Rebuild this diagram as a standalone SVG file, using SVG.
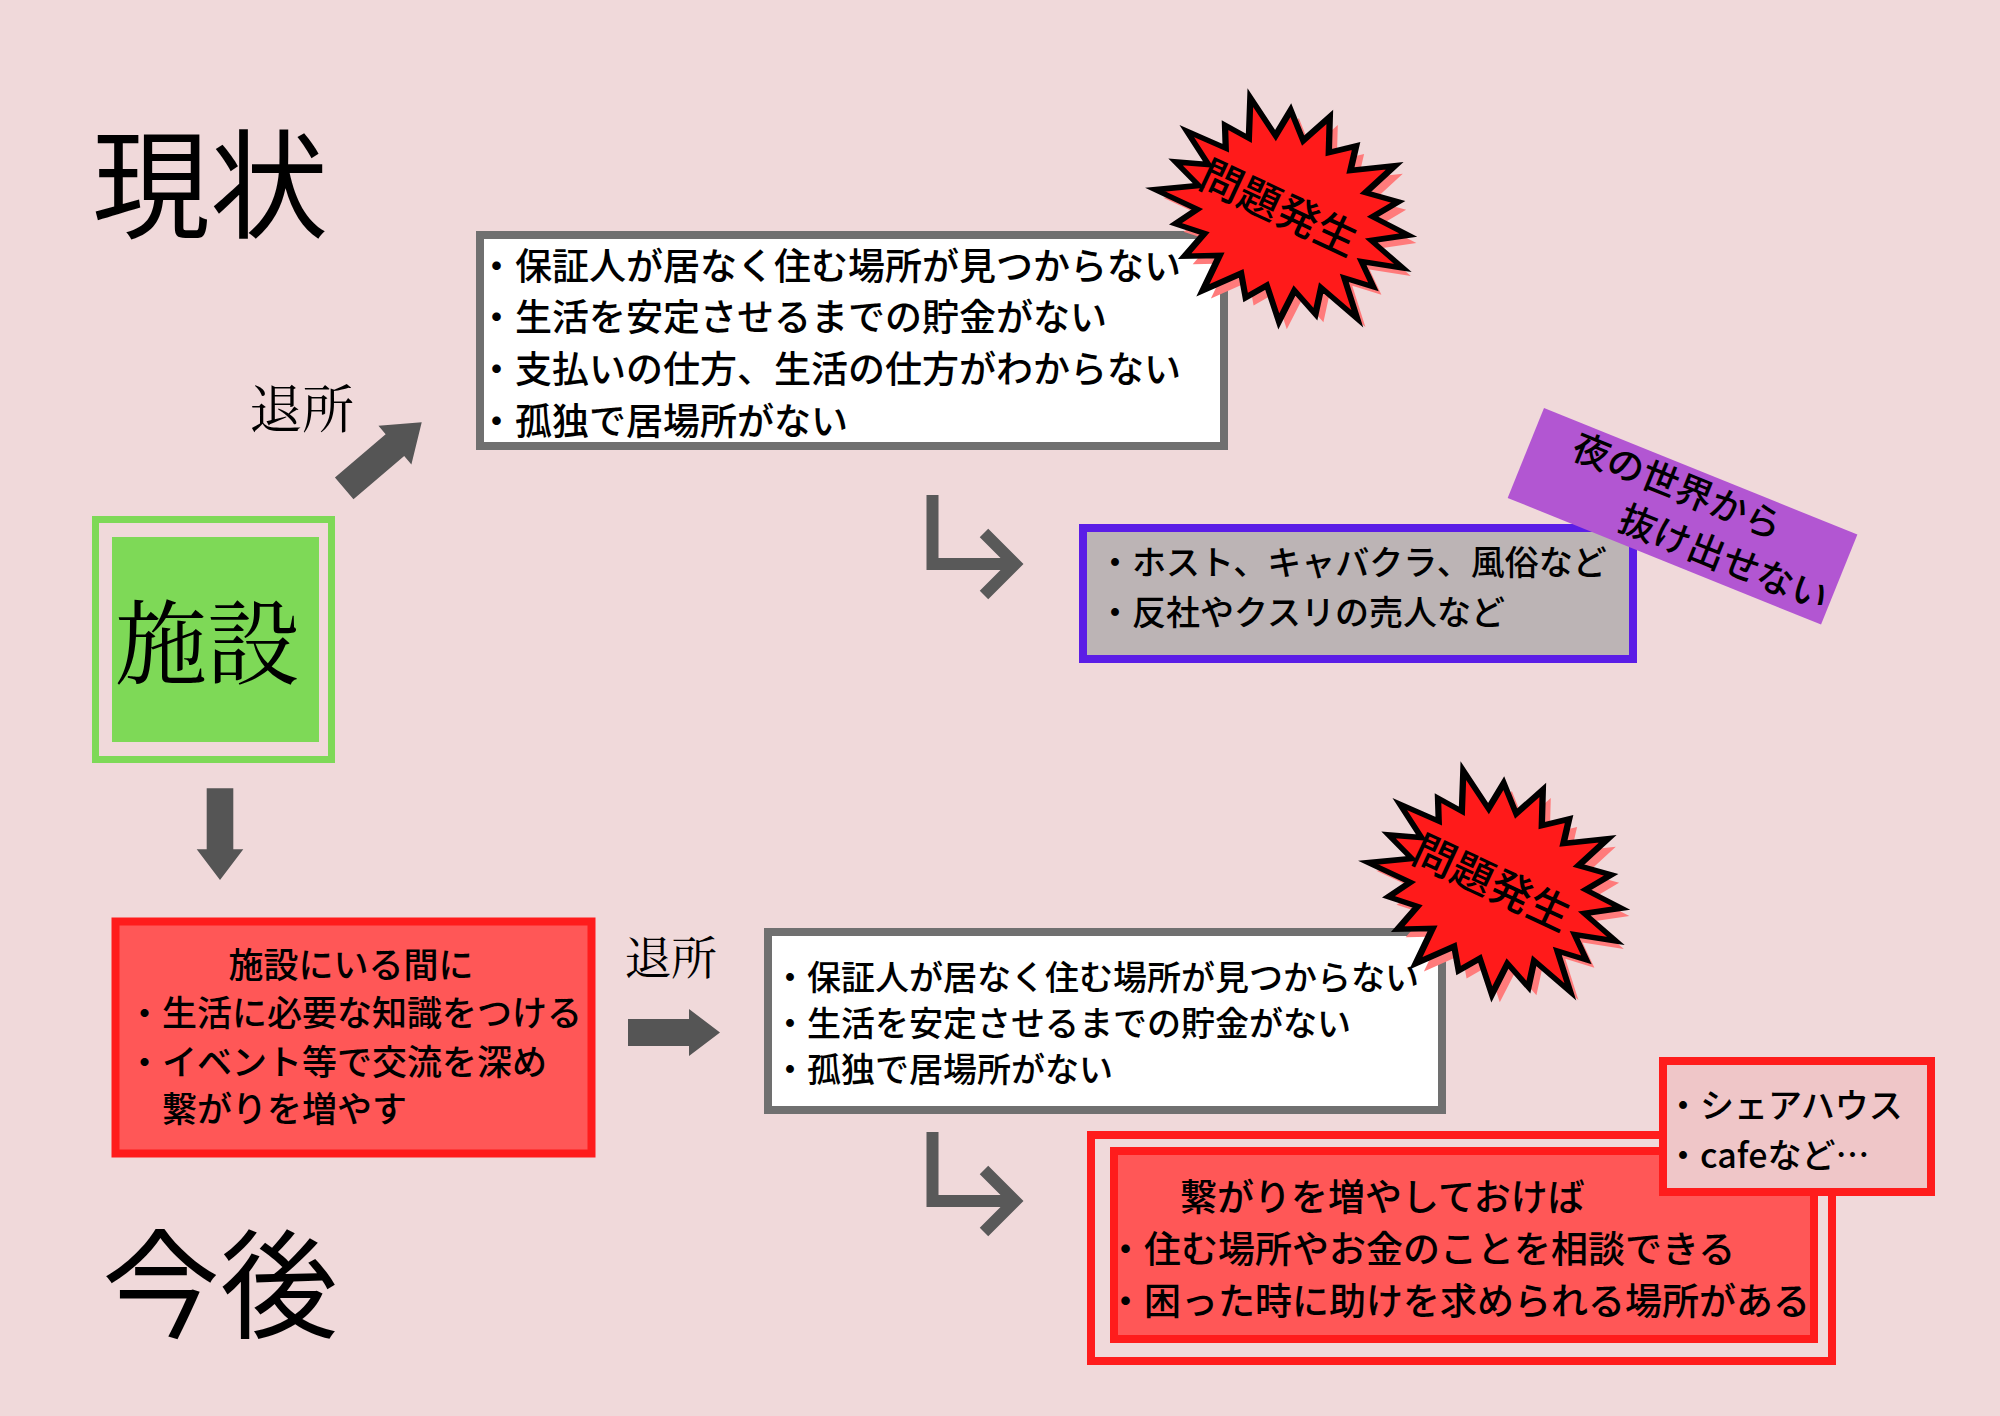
<svg xmlns="http://www.w3.org/2000/svg" width="2000" height="1416" viewBox="0 0 2000 1416">
<style>
.t{font-family:"Noto Sans CJK JP","Noto Sans CJK SC",sans-serif;font-weight:500;fill:#000}
.s{font-family:"Noto Serif CJK JP","Noto Sans CJK JP",serif;fill:#000}
.title{font-family:"Noto Sans CJK JP",sans-serif;font-weight:400;font-size:118px;fill:#000}
.arrow{fill:#555555}
.hook{fill:none;stroke:#595959;stroke-width:12;stroke-linecap:butt;stroke-linejoin:miter}
.graybox{fill:#ffffff;stroke:#707070;stroke-width:8}
.redbox{fill:#ff5757;stroke:#ff1c1c;stroke-width:8}
.burst{fill:#ff1a1a;stroke:#000;stroke-width:5;stroke-linejoin:miter}
.burstsh{fill:#ff7b7b}
</style>
<defs>
<polygon id="star" points="100,0 69.1,10.9 85.6,27.8 62.4,31.8 84.9,61.7 49.5,49.5 54.1,74.4 31.8,62.4 30.9,95.1 10.9,69.1 0,88 -10.9,69.1 -32.1,98.9 -31.8,62.4 -55.9,76.9 -49.5,49.5 -72.8,52.9 -62.4,31.8 -98,31.8 -69.1,10.9 -93,0 -69.1,-10.9 -95.1,-30.9 -62.4,-31.8 -70.4,-51.2 -49.5,-49.5 -61.7,-84.9 -31.8,-62.4 -29.4,-90.3 -10.9,-69.1 0,-100 10.9,-69.1 27.8,-85.6 31.8,-62.4 61.2,-84.1 49.5,-49.5 75.2,-54.7 62.4,-31.8 93.2,-30.3 69.1,-10.9"/>
</defs>
<rect x="0" y="0" width="2000" height="1416" fill="#f0d9da"/>

<g id="title-genjou"><text class="title" x="92" y="229">現状</text></g>
<g id="title-kongo"><text class="title" x="102" y="1329">今後</text></g>

<g id="connectors">
  <path class="arrow" d="M0,-14.3 H66.6 V-25.4 L101.8,0 L66.6,25.4 V14.3 H0 Z" transform="translate(344.2,488.3) rotate(-40.4)"/>
  <path class="arrow" d="M206.7,788.3 H233.3 V849.3 H243.3 L220,880 L196.7,849.3 H206.7 Z"/>
  <path class="arrow" d="M628,1019 H689 V1009 L720,1032.5 L689,1056 V1046 H628 Z"/>
  <path class="hook" d="M932.5,495 V564 H1012 M984,533 L1015,564 L984,595"/>
  <path class="hook" d="M932.5,1132 V1201 H1012 M984,1170 L1015,1201 L984,1232"/>
  <text class="s" x="250" y="428" font-size="52">退所</text>
  <text class="s" x="625" y="974" font-size="46">退所</text>
</g>

<g id="node-shisetsu">
  <rect x="95.5" y="519.5" width="236" height="240" fill="none" stroke="#7ed957" stroke-width="7"/>
  <rect x="112" y="537" width="207" height="205" fill="#7ed957"/>
  <text class="s" x="115" y="677" font-size="92">施設</text>
</g>

<g id="node-current-problems">
  <rect class="graybox" x="480" y="235" width="744" height="211"/>
  <text class="t" font-size="37">
    <tspan x="478" y="280">・保証人が居なく住む場所が見つからない</tspan>
    <tspan x="478" y="331">・生活を安定させるまでの貯金がない</tspan>
    <tspan x="478" y="383">・支払いの仕方、生活の仕方がわからない</tspan>
    <tspan x="478" y="435">・孤独で居場所がない</tspan>
  </text>
</g>

<g id="node-burst-top">
  <use href="#star" class="burstsh" transform="translate(1293,221) rotate(25) scale(1.3,1.06)"/>
  <use href="#star" class="burst" transform="translate(1285,213) rotate(25) scale(1.3,1.06)" vector-effect="non-scaling-stroke"/>
  <text class="t" font-size="42" text-anchor="middle" transform="translate(1279,208) rotate(25)" x="0" y="15">問題発生</text>
</g>

<g id="node-night">
  <rect x="1083" y="528" width="550" height="131" fill="#bcb4b5" stroke="#5b1de6" stroke-width="8"/>
  <text class="t" font-size="34">
    <tspan x="1098" y="575">・ホスト、キャバクラ、風俗など</tspan>
    <tspan x="1098" y="625">・反社やクスリの売人など</tspan>
  </text>
</g>

<g id="node-banner" transform="translate(1544,408) rotate(22)">
  <rect x="0" y="0" width="338" height="97" fill="#b256d2"/>
  <text class="t" font-size="37">
    <tspan x="42" y="36">夜の世界から</tspan>
    <tspan x="112" y="85">抜け出せない</tspan>
  </text>
</g>

<g id="node-future-plan">
  <rect class="redbox" x="115.5" y="921.5" width="476" height="232" stroke-width="7"/>
  <text class="t" font-size="35">
    <tspan x="355" y="978" text-anchor="middle">施設にいる間に</tspan>
    <tspan x="127" y="1026">・生活に必要な知識をつける</tspan>
    <tspan x="127" y="1075">・イベント等で交流を深め</tspan>
    <tspan x="162" y="1122">繋がりを増やす</tspan>
  </text>
</g>

<g id="node-future-problems">
  <rect class="graybox" x="768" y="932" width="674" height="178"/>
  <text class="t" font-size="34">
    <tspan x="773" y="990">・保証人が居なく住む場所が見つからない</tspan>
    <tspan x="773" y="1036">・生活を安定させるまでの貯金がない</tspan>
    <tspan x="773" y="1082">・孤独で居場所がない</tspan>
  </text>
</g>

<g id="node-burst-bottom">
  <use href="#star" class="burstsh" transform="translate(1506,894) rotate(25) scale(1.3,1.06)"/>
  <use href="#star" class="burst" transform="translate(1498,886) rotate(25) scale(1.3,1.06)" vector-effect="non-scaling-stroke"/>
  <text class="t" font-size="42" text-anchor="middle" transform="translate(1492,883) rotate(25)" x="0" y="15">問題発生</text>
</g>

<g id="node-future-solution">
  <rect x="1091" y="1135" width="741" height="226" fill="none" stroke="#ff1c1c" stroke-width="8"/>
  <rect class="redbox" x="1114" y="1151" width="700" height="188"/>
  <text class="t" font-size="37">
    <tspan x="1180" y="1211">繋がりを増やしておけば</tspan>
    <tspan x="1107" y="1263">・住む場所やお金のことを相談できる</tspan>
    <tspan x="1107" y="1315">・困った時に助けを求められる場所がある</tspan>
  </text>
</g>

<g id="node-examples">
  <rect x="1663" y="1061" width="268" height="131" fill="#efc6c8" stroke="#ff1c1c" stroke-width="8"/>
  <text class="t" font-size="34">
    <tspan x="1666" y="1118">・シェアハウス</tspan>
    <tspan x="1666" y="1168">・cafeなど…</tspan>
  </text>
</g>
</svg>
